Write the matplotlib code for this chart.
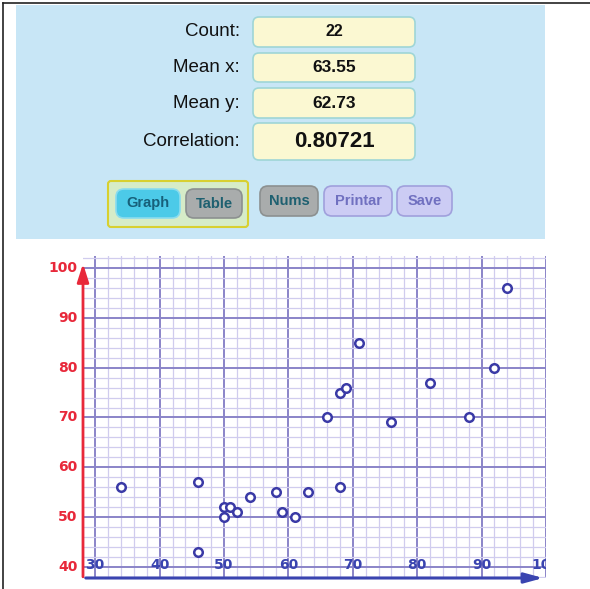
import matplotlib.pyplot as plt
from matplotlib.patches import FancyBboxPatch, Rectangle
from matplotlib.lines import Line2D
import matplotlib.transforms as mtransforms

# data
x_vals = [34, 46, 46, 50, 50, 51, 52, 54, 58, 59, 61, 63, 66, 68, 68, 69, 71, 76, 82, 88, 92, 94]
y_vals = [56, 57, 43, 52, 50, 52, 51, 54, 55, 51, 50, 55, 70, 75, 56, 76, 85, 69, 77, 70, 80, 96]
stat_labels = ['Count:', 'Mean x:', 'Mean y:', 'Correlation:']
stat_values = ['22', '63.55', '62.73', '0.80721']
x_ticks = [30, 40, 50, 60, 70, 80, 90, 100]
y_ticks = [40, 50, 60, 70, 80, 90, 100]

W, H = 590, 589
fig = plt.figure(figsize=(W / 100, H / 100), dpi=100)
fig.patch.set_facecolor('white')

def px(x, y):
    # pixel (from top-left) -> figure fraction
    return x / W, 1 - y / H

def box(x0, y0, x1, y1, fc, ec, lw=1.0, r=5):
    fx, fy = px(x0, y1)
    p = FancyBboxPatch((fx, fy), (x1 - x0) / W, (y1 - y0) / H,
                       boxstyle='round,pad=0,rounding_size=%f' % (r / W),
                       transform=fig.transFigure, fc=fc, ec=ec, lw=lw)
    fig.add_artist(p)

# top panel
fig.add_artist(Rectangle(px(16, 239), (545 - 16) / W, (239 - 5) / H,
                         transform=fig.transFigure, fc='#c8e6f6', ec='none'))
# outer border (left and top)
fig.add_artist(Line2D([3 / W, 3 / W], [0, 1 - 3 / H], transform=fig.transFigure, color='#222222', lw=1.2))
fig.add_artist(Line2D([3 / W, 1], [1 - 3 / H, 1 - 3 / H], transform=fig.transFigure, color='#222222', lw=1.2))

# stats boxes
rows = [(17, 47, 11.5), (53, 82, 12.5), (88, 118, 12.5), (123, 160, 16)]
for lab, val, (t, b, fs) in zip(stat_labels, stat_values, rows):
    box(253, t, 415, b, '#fbf8d2', '#9fd6d6', lw=1.2, r=6)
    cy = (t + b) / 2
    fig.text(*px(240, cy), lab, ha='right', va='center', fontsize=13.5,
             family='Liberation Sans', color='#111111')
    fig.text(*px(334, cy), val, ha='center', va='center', fontsize=fs,
             family='Liberation Sans', weight='bold', color='#111111')

# buttons
box(108, 181, 248, 227, '#d6ecc8', '#d8d030', lw=1.5, r=3)
buttons = [('Graph', 116, 189, 180, 218, '#4ccae8', '#8adcef', '#17607a'),
           ('Table', 186, 189, 242, 218, '#a9acac', '#8c9090', '#1e6070'),
           ('Nums', 260, 186, 318, 216, '#a9acac', '#8c9090', '#1e6070'),
           ('Printar', 324, 186, 392, 216, '#ccccf4', '#a0a0dc', '#7070c0'),
           ('Save', 397, 186, 452, 216, '#ccccf4', '#a0a0dc', '#7070c0')]
for name, x0, y0, x1, y1, fc, ec, tc in buttons:
    box(x0, y0, x1, y1, fc, ec, lw=1.2, r=8)
    fig.text(*px((x0 + x1) / 2, (y0 + y1) / 2), name, ha='center', va='center',
             fontsize=10.5, family='Liberation Sans', weight='bold', color=tc)

# scatter plot
ax = fig.add_axes([83 / W, 11 / H, (546 - 83) / W, (578 - 256) / H])
ax.set_xlim(28.1, 100)
ax.set_ylim(37.8, 102.4)
for s in ax.spines.values():
    s.set_visible(False)
ax.set_xticks([])
ax.set_yticks([])

for v in range(30, 101, 2):
    major = v % 10 == 0
    ax.axvline(v, color='#8a84c8' if major else '#d0ccee', lw=1.4 if major else 0.9, zorder=0)
for v in range(38, 103, 2):
    major = v % 10 == 0
    ax.axhline(v, color='#8a84c8' if major else '#d0ccee', lw=1.4 if major else 0.9, zorder=0)

ax.scatter(x_vals, y_vals, s=38, facecolors='white', edgecolors='#3a3aa6', linewidths=1.8, zorder=3)

# axes arrows
ax.annotate('', xy=(0, 0.985), xytext=(0, -0.005), xycoords='axes fraction',
            arrowprops=dict(arrowstyle='-|>,head_length=1.1,head_width=0.35', color='#e8283a', lw=2),
            annotation_clip=False)
ax.annotate('', xy=(1.0, 0.0), xytext=(0, 0.0), xycoords='axes fraction',
            arrowprops=dict(arrowstyle='-|>,head_length=1.1,head_width=0.3', color='#3a44b0', lw=2.2),
            annotation_clip=False)

tx = mtransforms.blended_transform_factory(ax.transData, ax.transAxes)
for v in x_ticks:
    ax.text(v, 0.018, str(v), transform=tx, ha='center', va='bottom', fontsize=10,
            weight='bold', color='#3a44b0', clip_on=True, zorder=4)
ty = mtransforms.blended_transform_factory(ax.transAxes, ax.transData)
for v in y_ticks:
    ax.text(-0.012, v, str(v), transform=ty, ha='right', va='center', fontsize=10,
            weight='bold', color='#e8283a')

fig.savefig('out.png', dpi=100)
